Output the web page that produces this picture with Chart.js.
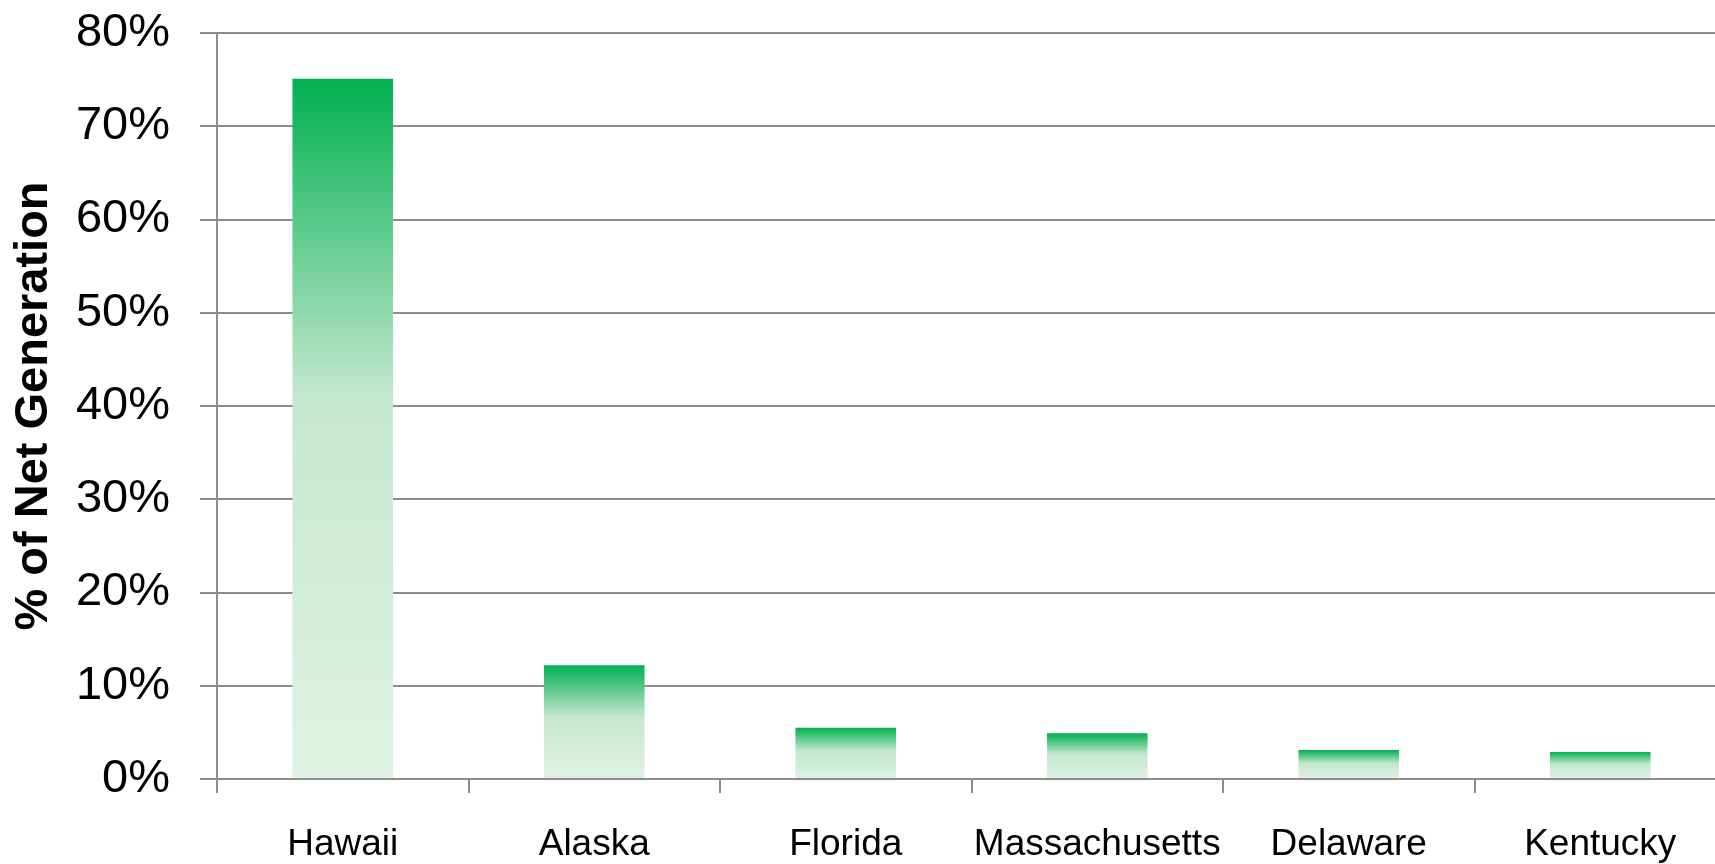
<!DOCTYPE html>
<html>
<head>
<meta charset="utf-8">
<script src="https://cdn.jsdelivr.net/npm/chart.js@4/dist/chart.umd.min.js"></script>
<style>
  html, body { margin: 0; padding: 0; background: #fff; overflow: hidden; }
  #wrap { width: 1726px; height: 864px; }
</style>
</head>
<body>
<div id="wrap"><canvas id="chart"></canvas></div>
<script>
// Datos del gráfico
var states = ['Hawaii', 'Alaska', 'Florida', 'Massachusetts', 'Delaware', 'Kentucky'];
var shares = [75.1, 12.2, 5.5, 4.9, 3.1, 2.9]; // % de generación neta
var yTicks = [0, 10, 20, 30, 40, 50, 60, 70, 80];

var gridGray = '#8c8c8c';
var sans = '"Liberation Sans Narrow", "Arial Narrow", "Liberation Sans", Arial, sans-serif';

// Degradado vertical por barra: verde arriba, casi blanco abajo
function barGradient(context) {
  var chart = context.chart;
  if (!chart.chartArea || !chart.scales.y) return '#00b050';
  var y = chart.scales.y;
  var top = y.getPixelForValue(context.raw);
  var bottom = y.getPixelForValue(0);
  if (!isFinite(top) || !isFinite(bottom) || top === bottom) return '#00b050';
  var g = chart.ctx.createLinearGradient(0, top, 0, bottom);
  g.addColorStop(0, '#00b050');
  g.addColorStop(0.45, '#c3e7cd');
  g.addColorStop(1, '#dff2e4');
  return g;
}

var ctx = document.getElementById('chart').getContext('2d');
new Chart(ctx, {
  type: 'bar',
  data: {
    labels: states,
    datasets: [{
      data: shares,
      backgroundColor: barGradient,
      borderWidth: 0,
      barPercentage: 0.4,
      categoryPercentage: 1.0
    }]
  },
  options: {
    responsive: true,
    maintainAspectRatio: false,
    animation: false,
    layout: { padding: { top: 33, right: 0, left: 0, bottom: 0 } },
    plugins: { legend: { display: false }, tooltip: { enabled: false } },
    scales: {
      x: {
        grid: {
          offset: true,
          drawOnChartArea: false,
          drawTicks: true,
          tickLength: 14,
          color: gridGray,
          lineWidth: 2
        },
        border: { display: true, color: gridGray, width: 2 },
        ticks: {
          color: '#000',
          font: { family: sans, size: 37 },
          padding: 30,
          maxRotation: 0,
          autoSkip: false
        },
        afterFit: function(scale) {
          scale.height = 85;
          scale.paddingLeft = 0;
          scale.paddingRight = 0;
        }
      },
      y: {
        min: 0,
        max: 80,
        afterBuildTicks: function(scale) {
          scale.ticks = yTicks.map(function(v) { return { value: v }; });
        },
        grid: {
          color: gridGray,
          lineWidth: 2,
          drawTicks: true,
          tickLength: 17
        },
        border: { display: true, color: gridGray, width: 2 },
        ticks: {
          color: '#000',
          font: { family: sans, size: 47 },
          padding: 30,
          callback: function(v) { return v + '%'; }
        },
        title: {
          display: true,
          text: '% of Net Generation',
          color: '#000',
          font: { family: '"Liberation Sans", Arial, sans-serif', size: 47, weight: 'bold' },
          padding: { top: 6, bottom: 0 }
        },
        afterFit: function(scale) {
          scale.width = 217;
          scale.paddingTop = 0;
          scale.paddingBottom = 0;
        }
      }
    }
  }
});
</script>
</body>
</html>
